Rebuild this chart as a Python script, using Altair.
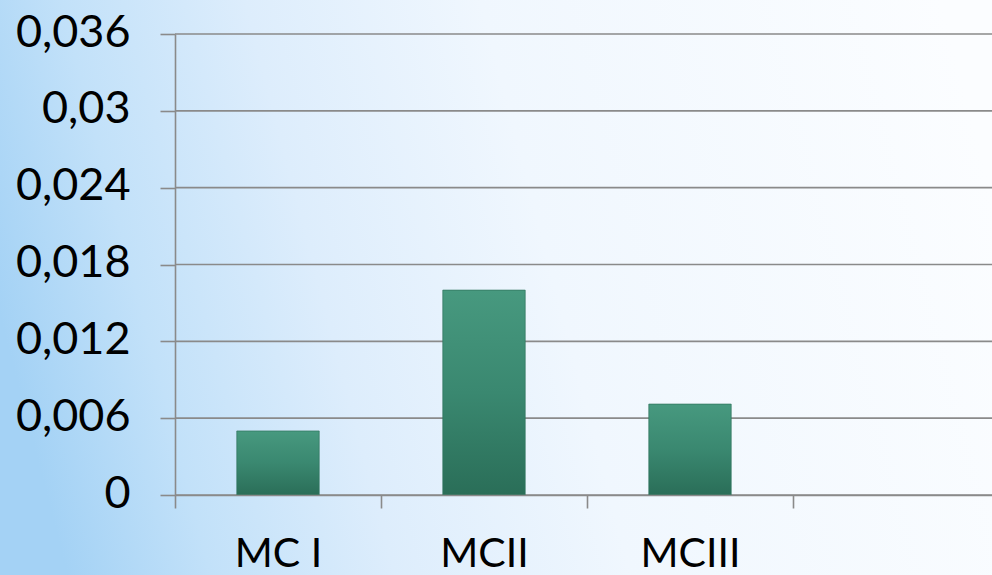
import altair as alt
import pandas as pd

# Series shown as bars
categories = ["MC I", "MCII", "MCIII"]
values = [0.005, 0.016, 0.0071]

# Category axis has one trailing empty slot
x_domain = ["MC I", "MCII", "MCIII", ""]

# Value axis ticks
y_ticks = [0, 0.006, 0.012, 0.018, 0.024, 0.03, 0.036]

bars_df = pd.DataFrame({"cat": categories, "val": values})
grid_df = pd.DataFrame({"v": y_ticks})

PLOT_W, PLOT_H = 817, 461
PAD_L, PAD_T, PAD_B = 175, 34, 80
GRID = "#8a8a8a"
FONT = "Lato"

y_scale = alt.Scale(domain=[0, 0.036], nice=False, zero=True)
x_scale = alt.Scale(domain=x_domain, range=[0, 824], paddingInner=0, paddingOuter=0)

y_axis = alt.Axis(
    values=y_ticks,
    labelExpr="replace(format(datum.value, '.3~f'), '.', ',')",
    tickSize=15,
    labelPadding=30,
    labelFontSize=45,
    labelOffset=-2,
    grid=False,
    zindex=2,
)

# Soft blue-to-white backdrop behind everything
backdrop = alt.Chart(alt.Data(values=[{}])).mark_rect(
    fill=alt.Gradient(
        gradient="linear",
        x1=0, y1=0.55, x2=1, y2=0.4,
        stops=[
            alt.GradientStop(color="#a4d2f5", offset=0),
            alt.GradientStop(color="#c2e1f9", offset=0.14),
            alt.GradientStop(color="#ddedfc", offset=0.32),
            alt.GradientStop(color="#f0f7fe", offset=0.55),
            alt.GradientStop(color="#fbfdff", offset=1),
        ],
    ),
    strokeWidth=0,
).encode(
    x=alt.value(-PAD_L), x2=alt.value(PLOT_W + 10),
    y=alt.value(-PAD_T), y2=alt.value(PLOT_H + PAD_B),
)

# Horizontal grid lines at each tick value
grid = alt.Chart(grid_df).mark_rule(color=GRID, strokeWidth=1.6).encode(
    y=alt.Y("v:Q", scale=y_scale, title=None, axis=y_axis)
)

bars = alt.Chart(bars_df).mark_bar(
    width=alt.RelativeBandSize(0.4),
    fill=alt.Gradient(
        gradient="linear",
        x1=0, y1=0, x2=0, y2=1,
        stops=[
            alt.GradientStop(color="#47997f", offset=0),
            alt.GradientStop(color="#3a8870", offset=0.5),
            alt.GradientStop(color="#2a6e58", offset=1),
        ],
    ),
    stroke="#2f735d",
    strokeWidth=1,
    strokeOpacity=0.7,
).encode(
    x=alt.X(
        "cat:N",
        scale=x_scale,
        sort=x_domain,
        title=None,
        axis=alt.Axis(
            tickBand="extent",
            labelAngle=0,
            tickSize=13,
            labelPadding=26,
            labelBaseline="top",
            labelFontSize=41,
            zindex=2,
        ),
    ),
    y=alt.Y("val:Q", scale=y_scale, title=None, axis=y_axis),
)

chart = alt.layer(backdrop, grid, bars).properties(
    width=PLOT_W,
    height=PLOT_H,
    padding={"left": PAD_L, "top": PAD_T, "right": 0, "bottom": PAD_B},
    autosize=alt.AutoSizeParams(type="none"),
    background="#ffffff",
).configure_axis(
    domainColor=GRID,
    domainWidth=1.6,
    tickColor=GRID,
    tickWidth=1.6,
    labelColor="#000000",
    labelFont=FONT,
).configure_view(stroke=None)

chart.save("out.html", embed_options={"renderer": "svg", "actions": False})
